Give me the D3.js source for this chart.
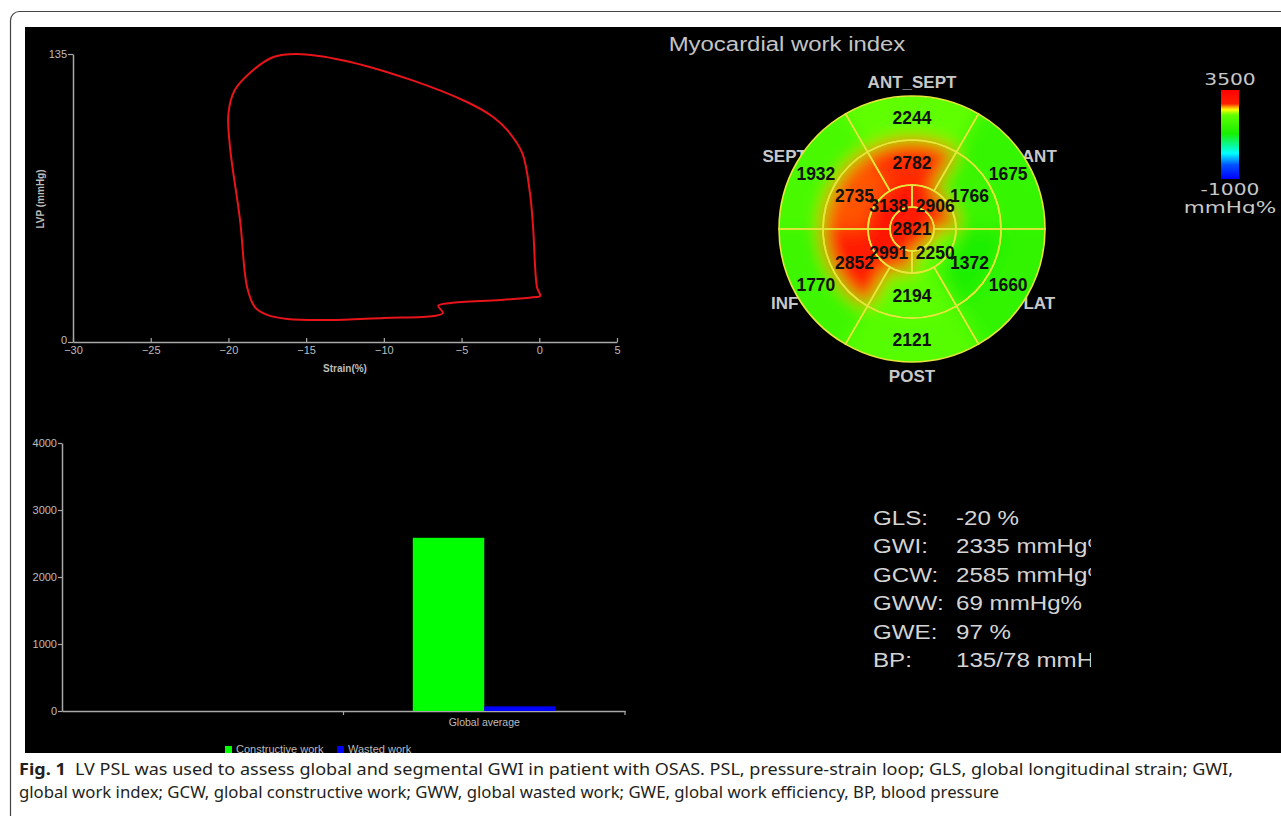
<!DOCTYPE html>
<meta charset="utf-8">
<script src="https://d3js.org/d3.v7.min.js"></script>
<style>
  body { margin: 0; background: #fff; }
</style>
<div id="chart"></div>
<script>

    // pressure-strain loop (strain %, LVP mmHg)
    let loopStrain   = [0.05, -0.15, -0.4, -0.6, -1.1, -2.07, -2.97, -4.65, -8.3, -12.6, -15.6, -17.1, -18.4, -19.6, -20.0, -19.9, -19.25, -18.8, -18.3, -17.5, -16.2, -13.5, -10.0, -6.8, -6.2, -6.5, -5.7, -2.5, -0.4];
    let loopPressure = [21.6, 25.8, 54, 69.8, 88.6, 99.4, 105.5, 112.5, 123, 132, 135, 133.6, 127.5, 118, 107, 91.5, 57, 25.8, 16.4, 12.7, 10.8, 10.3, 11.3, 12.2, 13.6, 17, 18.3, 19.7, 21];
    let strainTicks = [-30, -25, -20, -15, -10, -5, 0, 5];
    let lvpTicks = [0, 135];

    // bar chart
    let barCategories = ["", "Global average"];
    let workSeries = ["Constructive work", "Wasted work"];
    let workValues = [2585, 69];
    let workColors = ["#00ff00", "#0000ff"];
    let workTicks = [0, 1000, 2000, 3000, 4000];

    // bull's eye (segments clockwise from the top)
    let segNames = ["ANT_SEPT", "ANT", "LAT", "POST", "INF", "SEPT"];
    let basalValues = [2244, 1675, 1660, 2121, 1770, 1932];
    let midValues = [2782, 1766, 1372, 2194, 2852, 2735];
    let apicalValues = [2906, 2250, 2991, 3138];   // from 12 o'clock, clockwise
    let apexValue = 2821;
    let colorStops = [-1000, -300, 300, 1300, 2250, 2500, 2650, 2800, 3500];
    let colorRange = ["#0000ff", "#0050ff", "#00ffff", "#18ee00", "#60ff00", "#ffff00", "#ff9900", "#ff2000", "#ff0000"];

    // global indices
    let statLabels = ["GLS:", "GWI:", "GCW:", "GWW:", "GWE:", "BP:"];
    let statValues = ["-20 %", "2335 mmHg%", "2585 mmHg%", "69 mmHg%", "97 %", "135/78 mmHg"];

    let captionLines = [
        ["Fig. 1", "LV PSL was used to assess global and segmental GWI in patient with OSAS. PSL, pressure-strain loop; GLS, global longitudinal strain; GWI,"],
        ["", "global work index; GCW, global constructive work; GWW, global wasted work; GWE, global work efficiency, BP, blood pressure"]
    ];

    let width = 1281, height = 816;
    let axisColor = "#a8a8a8", tickText = "#bdbdbd";

    let svg = d3.select("#chart").append("svg")
        .attr("width", width).attr("height", height)
        .style("font-family", "'Liberation Sans', Arial, sans-serif");

    svg.append("rect").attr("width", width).attr("height", height).attr("fill", "#fff");
    svg.append("rect")
        .attr("x", 10.5).attr("y", 11.5).attr("width", 1320).attr("height", 900).attr("rx", 9)
        .attr("fill", "none").attr("stroke", "#444").attr("stroke-width", 1.2);

    let defs = svg.append("defs");
    defs.append("clipPath").attr("id", "panelClip")
        .append("rect").attr("x", 25).attr("y", 27).attr("width", 1256).attr("height", 726);

    let panel = svg.append("g").attr("clip-path", "url(#panelClip)");
    panel.append("rect").attr("x", 25).attr("y", 27).attr("width", 1256).attr("height", 726).attr("fill", "#000");

    function styleAxis(g) {
        g.select(".domain").attr("stroke", axisColor).attr("stroke-width", 1.5);
        g.selectAll(".tick line").attr("stroke", axisColor).attr("stroke-width", 1.2);
        g.selectAll(".tick text").attr("fill", tickText).style("font-size", "11px")
            .style("font-family", "'Liberation Sans', Arial, sans-serif");
    }

    // ---------- pressure-strain loop ----------
    let xStrain = d3.scaleLinear().domain([-30, 5]).range([73, 617]);
    let yLvp = d3.scaleLinear().domain([0, 135]).range([342, 54]);

    panel.append("g").attr("transform", "translate(0,342)")
        .call(d3.axisBottom(xStrain).tickValues(strainTicks).tickSizeInner(-4).tickSizeOuter(0).tickPadding(4))
        .call(styleAxis);
    let lvpAxis = panel.append("g").attr("transform", "translate(73,0)")
        .call(d3.axisLeft(yLvp).tickValues(lvpTicks).tickSizeInner(5).tickSizeOuter(0).tickPadding(1))
        .call(styleAxis);
    lvpAxis.selectAll(".tick text").filter(d => d === 0).attr("dy", "0.1em");

    panel.append("text").attr("x", 345).attr("y", 372).attr("text-anchor", "middle")
        .attr("fill", tickText).style("font-size", "10px").style("font-weight", "bold").text("Strain(%)");
    panel.append("text").attr("transform", "translate(44,199) rotate(-90)").attr("text-anchor", "middle")
        .attr("fill", tickText).style("font-size", "10px").style("font-weight", "bold").text("LVP (mmHg)");

    let loopLine = d3.line()
        .x((d, i) => xStrain(loopStrain[i]))
        .y((d, i) => yLvp(loopPressure[i]))
        .curve(d3.curveCatmullRomClosed.alpha(0.5));

    panel.append("path")
        .datum(loopStrain)
        .attr("d", loopLine)
        .attr("fill", "none")
        .attr("stroke", "#e8141a")
        .attr("stroke-width", 2)
        .attr("stroke-linejoin", "round");

    // ---------- bar chart ----------
    let xBand = d3.scaleBand().domain(barCategories).range([62, 625]);
    let xSeries = d3.scaleBand().domain(workSeries).range([0, xBand.bandwidth()]).paddingOuter(0.97);
    let yWork = d3.scaleLinear().domain([0, 4000]).range([711, 443]);

    panel.append("g").attr("transform", "translate(62,0)")
        .call(d3.axisLeft(yWork).tickValues(workTicks).tickFormat(d3.format("d")).tickSizeInner(4).tickSizeOuter(0).tickPadding(1))
        .call(styleAxis);

    let xAxisG = panel.append("g").attr("transform", "translate(0,711)")
        .call(d3.axisBottom(xBand).tickSize(0).tickSizeOuter(0).tickPadding(8))
        .call(styleAxis);
    xAxisG.selectAll(".tick text").style("font-size", "10.5px");
    xAxisG.selectAll(".edge").data(barCategories).enter().append("line")
        .attr("x1", d => xBand(d) + xBand.bandwidth()).attr("x2", d => xBand(d) + xBand.bandwidth())
        .attr("y1", 0).attr("y2", 4).attr("stroke", axisColor).attr("stroke-width", 1.2);

    panel.append("g").selectAll("rect")
        .data(workSeries)
        .enter()
        .append("rect")
            .attr("x", d => xBand("Global average") + xSeries(d))
            .attr("width", xSeries.bandwidth())
            .attr("y", (d, i) => yWork(workValues[i]))
            .attr("height", (d, i) => yWork(0) - yWork(workValues[i]))
            .attr("fill", (d, i) => workColors[i]);

    // legend (cut by the bottom of the panel in the original)
    let legendX = [225, 337];
    let legend = panel.append("g").selectAll("g").data(workSeries).enter().append("g")
        .attr("transform", (d, i) => "translate(" + legendX[i] + ",746)");
    legend.append("rect").attr("width", 7).attr("height", 7).attr("fill", (d, i) => workColors[i]);
    legend.append("text").attr("x", 11).attr("y", 7).attr("fill", tickText).style("font-size", "11px").text(d => d);

    // ---------- bull's eye ----------
    let color = d3.scaleLinear().domain(colorStops).range(colorRange).clamp(true);
    let cx = 912, cy = 229;
    let rApex = 22, rApical = 44, rMid = 89, rOuter = 133;

    let sixPie = d3.pie().value(1).sort(null).startAngle(-Math.PI / 6).endAngle(2 * Math.PI - Math.PI / 6);
    let fourPie = d3.pie().value(1).sort(null).startAngle(0).endAngle(2 * Math.PI);

    let rings = [
        {values: basalValues, slices: sixPie(basalValues), inner: rMid, outer: rOuter},
        {values: midValues, slices: sixPie(midValues), inner: rApical, outer: rMid},
        {values: apicalValues, slices: fourPie(apicalValues), inner: rApex, outer: rApical}
    ];

    let bull = panel.append("g").attr("transform", "translate(" + cx + "," + cy + ")");

    // wall names first, the disc covers their inner ends
    let nameArc = d3.arc().innerRadius(147).outerRadius(147);
    bull.append("g").selectAll("text").data(sixPie(segNames)).enter().append("text")
        .attr("transform", d => "translate(" + nameArc.centroid(d) + ")")
        .attr("text-anchor", "middle").attr("dy", "0.36em")
        .attr("fill", "#c8c8c8").style("font-size", "17px").style("font-weight", "bold")
        .text(d => d.data);

    let blur = defs.append("filter").attr("id", "heatBlur")
        .attr("x", "-30%").attr("y", "-30%").attr("width", "160%").attr("height", "160%");
    blur.append("feGaussianBlur").attr("stdDeviation", 9);
    defs.append("clipPath").attr("id", "discClip")
        .append("circle").attr("cx", 0).attr("cy", 0).attr("r", rOuter);

    let heat = bull.append("g").attr("clip-path", "url(#discClip)")
        .append("g").attr("filter", "url(#heatBlur)");

    rings.forEach((ring, k) => {
        let fillArc = d3.arc().innerRadius(ring.inner).outerRadius(k === 0 ? ring.outer + 45 : ring.outer);
        heat.selectAll(null).data(ring.slices).enter().append("path")
            .attr("d", fillArc)
            .attr("fill", d => color(d.data))
            .attr("stroke", d => color(d.data)).attr("stroke-width", 1);
    });
    heat.append("circle").attr("r", rApex + 0.5).attr("fill", color(apexValue));

    // yellow segment borders
    let borders = bull.append("g").attr("fill", "none").attr("stroke", "#e6e63c").attr("stroke-width", 1.6);
    rings.forEach(ring => {
        let a = d3.arc().innerRadius(ring.inner).outerRadius(ring.outer);
        borders.selectAll(null).data(ring.slices).enter().append("path").attr("d", a);
    });
    borders.append("circle").attr("r", rApex);

    // values
    let values = bull.append("g").attr("text-anchor", "middle").attr("fill", "#111")
        .style("font-size", "17.5px").style("font-weight", "bold");
    rings.forEach(ring => {
        let a = d3.arc().innerRadius(ring.inner).outerRadius(ring.outer);
        values.selectAll(null).data(ring.slices).enter().append("text")
            .attr("transform", d => "translate(" + a.centroid(d) + ")")
            .attr("dy", "0.36em")
            .text(d => d.data);
    });
    values.append("text").attr("dy", "0.36em").text(apexValue);

    // title
    panel.append("text").attr("transform", "translate(787,51) scale(1.14,1)")
        .attr("text-anchor", "middle").attr("fill", "#c4c4c4").style("font-size", "21px")
        .text("Myocardial work index");

    // colour bar
    let bar = defs.append("linearGradient").attr("id", "barGrad")
        .attr("x1", 0).attr("x2", 0).attr("y1", 0).attr("y2", 1);
    let yBar = d3.scaleLinear().domain([3500, -1000]).range([90, 179]);
    bar.selectAll("stop").data(d3.range(3500, -1001, -100)).enter().append("stop")
        .attr("offset", d => (yBar(d) - 90) / 89)
        .attr("stop-color", d => color(d));
    panel.append("rect").attr("x", 1221).attr("y", yBar(3500)).attr("width", 18)
        .attr("height", yBar(-1000) - yBar(3500)).attr("fill", "url(#barGrad)");

    let barLabels = [["3500", 85, 15], ["-1000", 194.5, 15], ["mmHg%", 213, 16]];
    defs.append("clipPath").attr("id", "unitClip")
        .append("rect").attr("x", 1150).attr("y", 60).attr("width", 131).attr("height", 154);
    panel.append("g").attr("clip-path", "url(#unitClip)").selectAll("text").data(barLabels).enter().append("text")
        .attr("transform", d => "translate(1230," + d[1] + ") scale(1.35,1)")
        .attr("text-anchor", "middle").attr("fill", "#c8c8c8")
        .style("font-family", "'DejaVu Sans', sans-serif")
        .style("font-size", d => d[2] + "px")
        .text(d => d[0]);

    // global indices
    defs.append("clipPath").attr("id", "statClip")
        .append("rect").attr("x", 850).attr("y", 480).attr("width", 241).attr("height", 220);
    let stats = panel.append("g").attr("clip-path", "url(#statClip)")
        .style("font-size", "21px").attr("fill", "#d4d4d4");
    let sx = 1.15;
    statLabels.forEach((lab, i) => {
        let y = 525 + i * 28.4;
        let t = stats.append("text").attr("transform", "translate(873," + y + ") scale(" + sx + ",1)").text(lab);
        let vx = Math.max(956, 873 + t.node().getComputedTextLength() * sx + 3);
        stats.append("text").attr("transform", "translate(" + vx + "," + y + ") scale(" + sx + ",1)").text(statValues[i]);
    });

    // caption
    let captionEnds = [1233, 999];
    captionLines.forEach((line, i) => {
        let t = svg.append("text")
            .attr("x", 19).attr("y", 775 + i * 23)
            .attr("fill", "#231f20")
            .style("font-family", "'Noto Sans', 'Open Sans', sans-serif")
            .style("font-size", "15.5px")
            .attr("textLength", captionEnds[i] - 19)
            .attr("lengthAdjust", "spacingAndGlyphs");
        if (line[0]) {
            t.append("tspan").style("font-weight", "bold").text(line[0]);
            t.append("tspan").attr("dx", 8).text(line[1]);
        } else {
            t.append("tspan").text(line[1]);
        }
    });

</script>
</html>
